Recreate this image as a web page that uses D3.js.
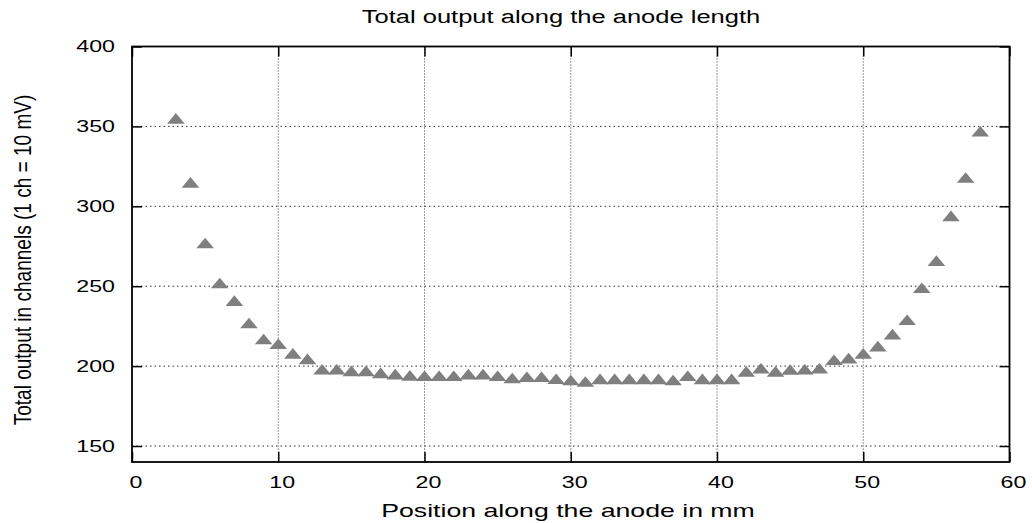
<!DOCTYPE html>
<html>
<head>
<meta charset="utf-8">
<script src="https://cdn.jsdelivr.net/npm/d3@7"></script>
<style>
  body { margin: 0; background: #fff; }
  text { font-family: "Liberation Sans", Arial, sans-serif; fill: #000; }
</style>
</head>
<body>
<div id="chart"></div>
<script>
// positions along the anode (mm) and total output (channels)
const positions = [3, 4, 5, 6, 7, 8, 9, 10, 11, 12, 13, 14, 15, 16, 17, 18, 19, 20,
  21, 22, 23, 24, 25, 26, 27, 28, 29, 30, 31, 32, 33, 34, 35, 36, 37, 38, 39, 40,
  41, 42, 43, 44, 45, 46, 47, 48, 49, 50, 51, 52, 53, 54, 55, 56, 57, 58];
const totals = [355, 315, 277, 252, 241, 227, 217, 214, 208, 204.5, 198, 198, 197, 197, 195.8, 195, 194.2, 194,
  194, 194, 195, 195, 194, 192.6, 193.3, 193.3, 192.1, 191.3, 190.4, 192, 192, 192, 192, 192, 191.3, 194, 192, 192,
  192, 196.7, 198.7, 196.7, 197.9, 198, 198.7, 204, 205, 208, 212.5, 220, 229, 249, 266, 294, 318, 347];
const xTicks = [0, 10, 20, 30, 40, 50, 60];
const yTicks = [150, 200, 250, 300, 350, 400];

const W = 1032, H = 523;
const margin = {top: 46.5, right: 22.5, bottom: 61, left: 132};
const width = W - margin.left - margin.right,
      height = H - margin.top - margin.bottom;
const sx = 1.45; // horizontal stretch of the glyphs

const svg = d3.select("#chart").append("svg")
    .attr("width", W).attr("height", H);
const g = svg.append("g")
    .attr("transform", `translate(${margin.left},${margin.top})`);

const x = d3.scaleLinear().domain([0, 60]).range([0, width]);
const y = d3.scaleLinear().domain([140, 400]).range([height, 0]);

// grid
g.selectAll(".hgrid").data(yTicks.filter(d => d < 400))
  .join("line")
    .attr("x1", 0).attr("x2", width)
    .attr("y1", d => y(d)).attr("y2", d => y(d))
    .attr("stroke", "#333").attr("stroke-width", 1)
    .attr("stroke-dasharray", "1.5,3");
g.selectAll(".vgrid").data(xTicks.filter(d => d > 0 && d < 60))
  .join("line")
    .attr("x1", d => x(d)).attr("x2", d => x(d))
    .attr("y1", 0).attr("y2", height)
    .attr("stroke", "#333").attr("stroke-width", 1)
    .attr("stroke-dasharray", "1,2");

// axes, ticks pointing inward and mirrored
const tickLen = 10;
const axB = g.append("g").attr("transform", `translate(0,${height})`)
  .call(d3.axisBottom(x).tickValues(xTicks).tickSize(-tickLen).tickFormat(""));
const axT = g.append("g")
  .call(d3.axisTop(x).tickValues(xTicks).tickSize(-tickLen).tickFormat(""));
const axL = g.append("g")
  .call(d3.axisLeft(y).tickValues(yTicks).tickSize(-tickLen).tickFormat(""));
const axR = g.append("g").attr("transform", `translate(${width},0)`)
  .call(d3.axisRight(y).tickValues(yTicks).tickSize(-tickLen).tickFormat(""));
[axB, axT, axL, axR].forEach(a => {
  a.select(".domain").remove();
  a.selectAll("line").attr("stroke", "#000").attr("stroke-width", 1.5);
});

// tick labels
g.selectAll(".xlab").data(xTicks).join("text")
    .attr("transform", d => `translate(${x(d) + 4},${height + 26}) scale(${sx},1)`)
    .attr("text-anchor", "middle")
    .style("font-size", "16px")
    .text(d => d);
g.selectAll(".ylab").data(yTicks).join("text")
    .attr("transform", d => `translate(${-17},${y(d) + 5.8}) scale(${sx},1)`)
    .attr("text-anchor", "end")
    .style("font-size", "16px")
    .text(d => d);

// frame
g.append("rect").attr("width", width).attr("height", height)
  .attr("fill", "none").attr("stroke", "#000").attr("stroke-width", 1.8);

// points
const tw = 8.8, th = 5.3;
g.selectAll(".pt").data(positions.map((p, i) => [p, totals[i]]))
  .join("path")
    .attr("d", d => {
      const cx = x(d[0]), cy = y(d[1]);
      return `M${cx - tw},${cy + th}L${cx + tw},${cy + th}L${cx},${cy - th}Z`;
    })
    .attr("fill", "#7f7f7f");

// title and axis labels
svg.append("text")
    .attr("transform", `translate(561,23) scale(${sx},1)`)
    .attr("text-anchor", "middle")
    .style("font-size", "17.6px")
    .text("Total output along the anode length");
svg.append("text")
    .attr("transform", `translate(568,517) scale(${sx},1)`)
    .attr("text-anchor", "middle")
    .style("font-size", "18.4px")
    .text("Position along the anode in mm");
svg.append("text")
    .attr("transform", `translate(31,260) scale(${sx},1.19) rotate(-90)`)
    .attr("text-anchor", "middle")
    .style("font-size", "16px")
    .text("Total output in channels (1 ch = 10 mV)");
</script>
</body>
</html>
